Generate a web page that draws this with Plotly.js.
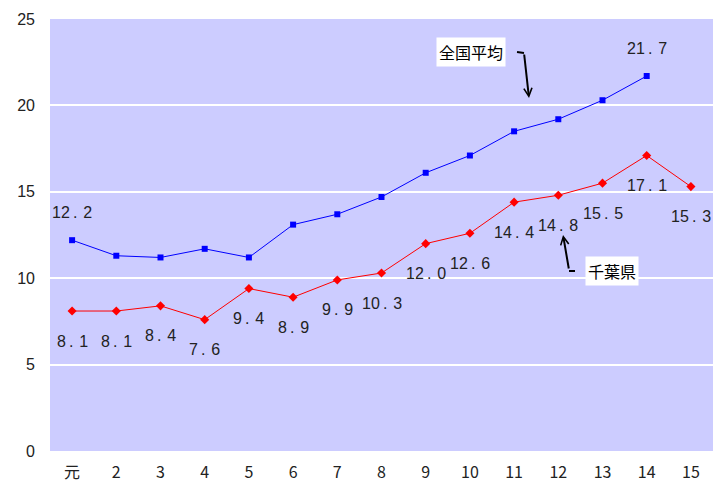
<!DOCTYPE html>
<html>
<head>
<meta charset="utf-8">
<script src="https://cdn.plot.ly/plotly-3.0.1.min.js"></script>
<style>
  html, body { margin: 0; padding: 0; background: #fff; }
  #chart { width: 722px; height: 483px; }
</style>
</head>
<body>
<div id="chart"></div>
<script>
// 年度（平成）
const years = ['元', '2', '3', '4', '5', '6', '7', '8', '9', '10', '11', '12', '13', '14', '15'];
// 全国平均
const national = [12.2, 11.3, 11.2, 11.7, 11.2, 13.1, 13.7, 14.7, 16.1, 17.1, 18.5, 19.2, 20.3, 21.7, null];
// 千葉県
const chiba = [8.1, 8.1, 8.4, 7.6, 9.4, 8.9, 9.9, 10.3, 12.0, 12.6, 14.4, 14.8, 15.5, 17.1, 15.3];
// 値ラベルを付ける全国平均の点
const nationalLabelIdx = [0, 13];

const labelFont = { family: 'Liberation Sans, Arial, sans-serif', size: 16, color: '#222' };
// 小数点の前後を少し空けた表記（例: 12. 2）
const fmt = v => {
  const [a, b] = v.toFixed(1).split('.');
  return a + '\u2009. \u200A' + b;
};

const traces = [
  {
    x: years, y: national, type: 'scatter', mode: 'lines+markers', name: '全国平均',
    line: { color: '#0000ff', width: 1 },
    marker: { symbol: 'square', size: 6, color: '#0000ff' },
    cliponaxis: false
  },
  {
    x: years, y: chiba, type: 'scatter', mode: 'lines+markers', name: '千葉県',
    line: { color: '#ff0000', width: 1 },
    marker: { symbol: 'diamond', size: 7, color: '#ff0000' },
    cliponaxis: false
  }
];

// カテゴリ軸上の位置は番号（0始まり）で指定する
const annotations = [];
chiba.forEach((v, i) => {
  annotations.push({
    x: i, y: v, xref: 'x', yref: 'y', text: fmt(v), showarrow: false,
    yshift: -30, font: labelFont, xanchor: 'center', yanchor: 'middle'
  });
});
nationalLabelIdx.forEach(i => {
  annotations.push({
    x: i, y: national[i], xref: 'x', yref: 'y', text: fmt(national[i]), showarrow: false,
    yshift: 28, font: labelFont, xanchor: 'center', yanchor: 'middle'
  });
});

// 系列名の吹き出しと矢印
const boxFont = { family: 'Noto Sans CJK JP, sans-serif', size: 16, color: '#000' };
annotations.push(
  { xref: 'paper', yref: 'paper', x: 0.6357, y: 0.9236, text: '全国平均', showarrow: false,
    bgcolor: '#ffffff', font: boxFont, borderpad: 2, xanchor: 'center', yanchor: 'middle' },
  { xref: 'paper', yref: 'paper', x: 0.7225, y: 0.8171, text: '', showarrow: true,
    ax: -5, ay: -45, arrowhead: 5, arrowsize: 0.8, arrowwidth: 2, arrowcolor: '#000' },
  { xref: 'paper', yref: 'paper', x: 0.8477, y: 0.4178, text: '千葉県', showarrow: false,
    bgcolor: '#ffffff', font: boxFont, borderpad: 2, xanchor: 'center', yanchor: 'middle' },
  { xref: 'paper', yref: 'paper', x: 0.7738, y: 0.5001, text: '', showarrow: true,
    ax: 6, ay: 35, arrowhead: 5, arrowsize: 0.8, arrowwidth: 2, arrowcolor: '#000' }
);

const shapes = [
  { type: 'line', xref: 'paper', yref: 'paper', x0: 0.7044, y0: 0.9236, x1: 0.7149, y1: 0.9213,
    line: { color: '#000', width: 2 } },
  { type: 'line', xref: 'paper', yref: 'paper', x0: 0.7828, y0: 0.4167, x1: 0.7919, y1: 0.4167,
    line: { color: '#000', width: 2 } }
];

const layout = {
  width: 722, height: 483,
  margin: { l: 50, r: 9, t: 19, b: 32 },
  paper_bgcolor: '#ffffff',
  plot_bgcolor: '#ccccff',
  showlegend: false,
  font: { family: 'Liberation Sans, Arial, sans-serif', color: '#222' },
  xaxis: {
    type: 'category', range: [-0.5, 14.5], showgrid: false, zeroline: false, showline: false,
    ticks: '', ticklabelstandoff: 10,
    tickfont: { family: 'Liberation Sans Narrow, Noto Sans CJK JP, sans-serif', size: 16, color: '#222' }
  },
  yaxis: {
    range: [0, 25], dtick: 5, showgrid: true, gridcolor: '#ffffff', gridwidth: 2,
    zeroline: false, showline: false, ticks: '', ticklabelstandoff: 14,
    tickfont: { family: 'Liberation Sans, Arial, sans-serif', size: 16, color: '#222' }
  },
  annotations: annotations,
  shapes: shapes
};

Plotly.newPlot('chart', traces, layout, { displayModeBar: false, staticPlot: true });
</script>
</body>
</html>
